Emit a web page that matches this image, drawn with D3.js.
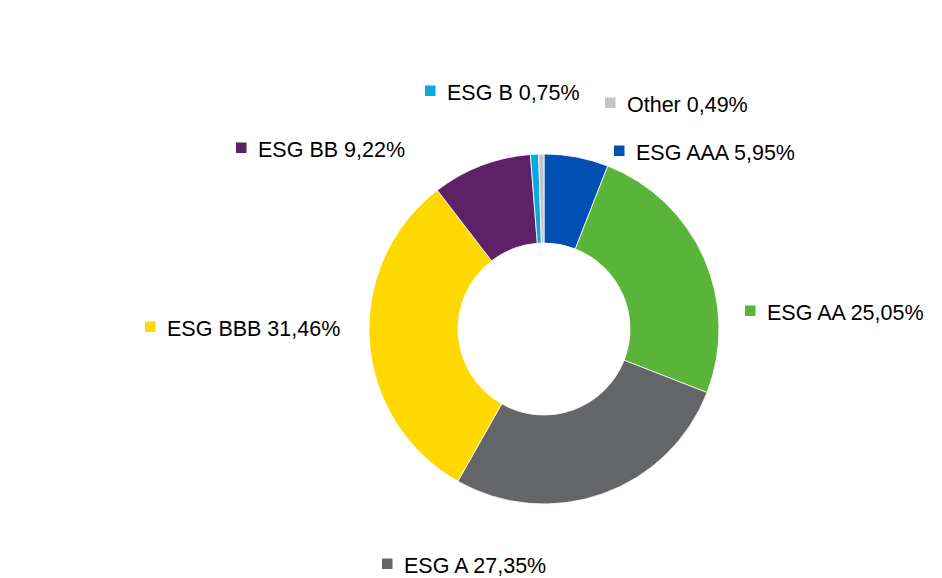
<!DOCTYPE html>
<html>
<head>
<meta charset="utf-8">
<script src="https://cdn.jsdelivr.net/npm/d3@7/dist/d3.min.js"></script>
<style>
  body { margin: 0; background: #fff; }
  svg { display: block; }
</style>
</head>
<body>
<div id="content"></div>
<script>
const width = 942;
const height = 578;

// data
const categories = ["ESG AAA", "ESG AA", "ESG A", "ESG BBB", "ESG BB", "ESG B", "Other"];
const shares = [5.95, 25.05, 27.35, 31.46, 9.22, 0.75, 0.49];
const colors = ["#0050b4", "#5bb43a", "#636569", "#ffd800", "#5e2066", "#0aa8dd", "#c4c4c4"];

// label placement, offset from donut centre (left of the marker, text baseline)
const label_offsets = [[70, -169], [201, -9], [-162, 244], [-399, 7], [-308, -172], [-119, -229], [61, -217]];

const cx = 544, cy = 329;
const outer_r = 175, inner_r = 86;

var svg = d3
    .select("#content")
    .append("svg")
    .attr("width", width)
    .attr("height", height);

var g = svg.append("g").attr("transform", "translate(" + cx + "," + cy + ")");

var pie = d3.pie().sort(null).value(d => d.value);
var arc = d3.arc().innerRadius(inner_r).outerRadius(outer_r);

var rows = categories.map((c, i) => ({ name: c, value: shares[i], color: colors[i], off: label_offsets[i] }));

g.selectAll("path")
    .data(pie(rows))
    .join("path")
    .attr("d", arc)
    .attr("fill", d => d.data.color)
    .attr("stroke", "#fff")
    .attr("stroke-width", 0.8);

var fmt = v => d3.format(".2f")(v).replace(".", ",") + "%";

var labels = g.selectAll("g.label")
    .data(rows)
    .join("g")
    .attr("class", "label")
    .attr("transform", d => "translate(" + d.off[0] + "," + d.off[1] + ")");

labels.append("rect")
    .attr("x", 0)
    .attr("y", -14.5)
    .attr("width", 10.5)
    .attr("height", 10.5)
    .attr("fill", d => d.color);

labels.append("text")
    .attr("x", 22)
    .attr("y", 0)
    .style("font-family", "'Liberation Sans', Arial, sans-serif")
    .style("font-size", "21.5px")
    .attr("fill", "#000")
    .text(d => d.name + " " + fmt(d.value));
</script>
</body>
</html>
